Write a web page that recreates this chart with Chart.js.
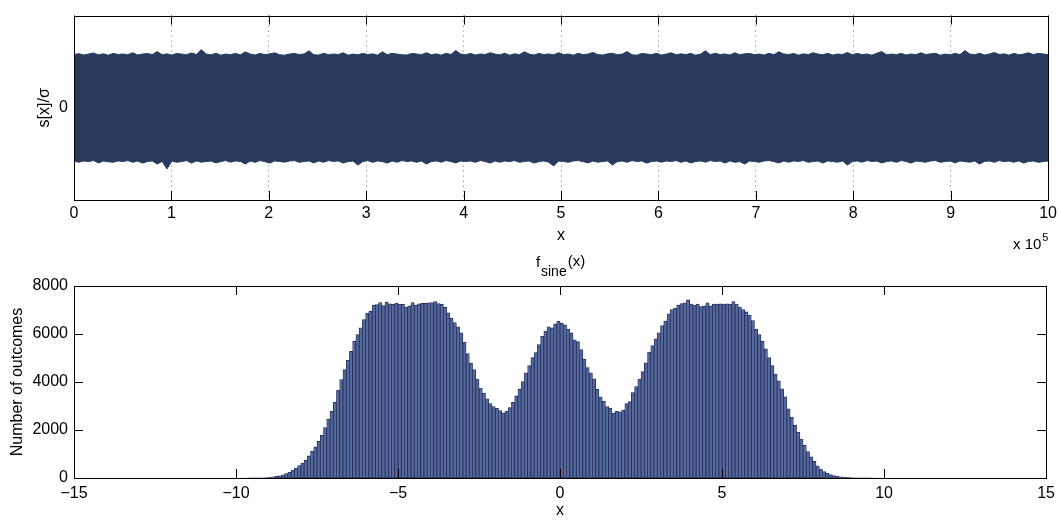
<!DOCTYPE html>
<html>
<head>
<meta charset="utf-8">
<script src="https://cdn.jsdelivr.net/npm/chart.js@4/dist/chart.umd.min.js"></script>
<style>
  body { margin: 0; background: #fff; }
  #top { position: absolute; left: 0; top: 0; width: 1061px; height: 250px; }
  #bottom { position: absolute; left: 0; top: 250px; width: 1061px; height: 271px; }
</style>
</head>
<body>
<div id="top"><canvas id="signalChart"></canvas></div>
<div id="bottom"><canvas id="histChart"></canvas></div>
<script>
// top panel: envelope of the noisy signal s[x]/sigma
const sampleCount = 200;
const signalUpper = [
  4.62,4.70,4.58,4.66,4.75,4.60,4.68,4.57,4.72,4.63,
  4.67,4.61,4.78,4.59,4.66,4.71,4.62,4.88,4.60,4.68,
  4.58,4.72,4.66,4.61,4.76,4.63,5.05,4.67,4.60,4.73,
  4.57,4.66,4.62,4.72,4.60,4.85,4.67,4.58,4.73,4.61,
  4.68,4.77,4.60,4.57,4.66,4.72,4.62,4.67,4.95,4.60,
  4.58,4.73,4.61,4.67,4.62,4.78,4.57,4.66,4.61,4.72,
  4.62,4.68,4.57,4.86,4.61,4.73,4.66,4.60,4.58,4.72,
  4.67,4.61,4.78,4.60,4.68,4.57,4.73,4.62,4.97,4.66,
  4.61,4.72,4.58,4.67,4.62,4.78,4.66,4.60,4.73,4.57,
  4.68,4.61,4.86,4.66,4.58,4.72,4.62,4.67,4.61,4.78,
  4.62,4.67,4.57,4.73,4.61,4.66,4.80,4.62,4.58,4.68,
  4.73,4.61,4.66,4.88,4.60,4.57,4.72,4.67,4.62,4.73,
  4.58,4.66,4.78,4.61,4.68,4.62,4.72,4.57,4.66,4.95,
  4.61,4.73,4.62,4.67,4.58,4.78,4.61,4.68,4.72,4.62,
  4.66,4.58,4.73,4.61,4.86,4.67,4.62,4.72,4.57,4.68,
  4.62,4.78,4.66,4.60,4.73,4.58,4.67,4.62,4.80,4.61,
  4.72,4.62,4.67,4.57,4.73,4.88,4.61,4.66,4.62,4.72,
  4.58,4.67,4.61,4.78,4.62,4.68,4.73,4.57,4.66,4.61,
  4.72,4.62,4.97,4.66,4.61,4.73,4.58,4.67,4.80,4.62,
  4.68,4.57,4.72,4.61,4.66,4.78,4.62,4.73,4.67,4.61
];
const signalLower = [
  -4.62,-4.72,-4.61,-4.67,-4.58,-4.78,-4.62,-4.68,-4.73,-4.61,
  -4.66,-4.58,-4.73,-4.62,-4.80,-4.67,-4.61,-4.88,-4.66,-5.30,
  -4.62,-4.73,-4.67,-4.58,-4.80,-4.61,-4.72,-4.66,-4.62,-4.78,
  -4.67,-4.58,-4.72,-4.61,-4.66,-4.88,-4.62,-4.73,-4.58,-4.67,
  -4.80,-4.61,-4.66,-4.72,-4.62,-4.58,-4.73,-4.67,-4.61,-4.78,
  -4.62,-4.72,-4.58,-4.66,-4.61,-4.80,-4.67,-4.62,-4.97,-4.66,
  -4.58,-4.73,-4.61,-4.67,-4.80,-4.62,-4.72,-4.58,-4.66,-4.61,
  -4.73,-4.62,-4.88,-4.67,-4.61,-4.72,-4.58,-4.66,-4.78,-4.62,
  -4.67,-4.61,-4.73,-4.58,-4.66,-4.80,-4.62,-4.72,-4.61,-4.67,
  -4.58,-4.73,-4.66,-4.62,-4.80,-4.67,-4.61,-4.72,-5.05,-4.62,
  -4.66,-4.73,-4.61,-4.58,-4.67,-4.78,-4.62,-4.72,-4.66,-4.61,
  -4.97,-4.67,-4.62,-4.73,-4.58,-4.66,-4.61,-4.80,-4.67,-4.62,
  -4.72,-4.61,-4.66,-4.58,-4.73,-4.62,-4.78,-4.67,-4.61,-4.72,
  -4.58,-4.66,-4.62,-4.80,-4.61,-4.73,-4.67,-4.88,-4.62,-4.66,
  -4.73,-4.61,-4.58,-4.67,-4.78,-4.62,-4.72,-4.61,-4.66,-4.58,
  -4.73,-4.67,-4.62,-4.80,-4.61,-4.66,-4.72,-4.62,-4.97,-4.67,
  -4.61,-4.72,-4.58,-4.66,-4.62,-4.78,-4.67,-4.61,-4.73,-4.58,
  -4.66,-4.80,-4.62,-4.67,-4.72,-4.61,-4.58,-4.73,-4.66,-4.62,
  -4.78,-4.61,-4.67,-4.72,-4.62,-4.88,-4.66,-4.61,-4.73,-4.58,
  -4.67,-4.62,-4.72,-4.61,-4.80,-4.66,-4.62,-4.73,-4.67,-4.61
];
const signalXMax = 1e6;
const signalTicks = [0,1,2,3,4,5,6,7,8,9,10];

// bottom panel: histogram of f_sine(x), 200 bins from -10 to 10
const binStart = -10;
const binWidth = 0.1;
const binCounts = [
  0,0,1,1,2,3,4,6,9,13,
  30,45,65,90,130,180,240,320,410,520,
  620,740,920,1110,1300,1530,1780,2100,2450,2780,
  3150,3650,4100,4520,4900,5280,5700,5980,6260,6600,
  6870,6950,7200,7230,7310,7180,7330,7260,7240,7290,
  7250,7240,7110,7170,7310,7200,7260,7280,7280,7300,
  7310,7350,7270,7240,7110,6880,6650,6480,6300,6050,
  5650,5180,4780,4520,4120,3750,3540,3300,3100,2980,
  2900,2810,2720,2790,2930,3150,3420,3700,4020,4380,
  4680,5020,5230,5560,5900,6120,6300,6260,6420,6530,
  6450,6380,6200,6050,5760,5680,5350,4950,4600,4380,
  4130,3700,3380,3190,2980,2900,2700,2780,2760,2820,
  3100,3180,3560,3810,4120,4430,4800,5250,5520,5800,
  6050,6350,6540,6840,7020,7070,7200,7270,7300,7420,
  7250,7210,7250,7140,7170,7300,7170,7250,7250,7260,
  7250,7260,7240,7350,7250,7120,7020,6920,6780,6560,
  6200,5980,5700,5380,5020,4680,4330,4050,3720,3380,
  2880,2530,2200,1900,1620,1360,1100,880,690,510,
  370,270,200,145,100,75,50,35,25,15,
  10,8,6,4,3,2,1,1,0,0
];
const histXTicks = [-15,-10,-5,0,5,10,15];
const histYTicks = [0,2000,4000,6000,8000];

Chart.defaults.font.family = "'Liberation Sans', Arial, Helvetica, sans-serif";
Chart.defaults.font.size = 16;
Chart.defaults.color = '#000';
Chart.defaults.animation = false;

// MATLAB style box with inward tick marks
const boxTicks = {
  id: 'boxTicks',
  afterDatasetsDraw(chart, args, opts) {
    const { ctx, chartArea: a, scales } = chart;
    const L = 9;
    ctx.save();
    ctx.strokeStyle = '#000';
    ctx.lineWidth = 1;
    ctx.beginPath();
    scales.x.ticks.forEach(t => {
      const px = Math.round(scales.x.getPixelForValue(t.value)) + 0.5;
      ctx.moveTo(px, a.bottom); ctx.lineTo(px, a.bottom - L);
      ctx.moveTo(px, a.top); ctx.lineTo(px, a.top + L);
    });
    if (opts.yTicks) {
      scales.y.ticks.forEach(t => {
        const py = Math.round(scales.y.getPixelForValue(t.value)) + 0.5;
        ctx.moveTo(a.left, py); ctx.lineTo(a.left + L, py);
        ctx.moveTo(a.right, py); ctx.lineTo(a.right - L, py);
      });
    }
    ctx.stroke();
    ctx.strokeRect(Math.round(a.left) + 0.5, Math.round(a.top) + 0.5, Math.round(a.width), Math.round(a.height));
    ctx.restore();
  }
};

const sampleX = signalUpper.map((v, i) => i * signalXMax / (sampleCount - 1));

new Chart(document.getElementById('signalChart'), {
  type: 'line',
  data: {
    datasets: [{
      data: signalUpper.map((v, i) => ({ x: sampleX[i], y: v })),
      borderColor: '#2d3f66',
      backgroundColor: '#283a5e',
      borderWidth: 1,
      pointRadius: 0,
      tension: 0,
      fill: '+1'
    }, {
      data: signalLower.map((v, i) => ({ x: sampleX[i], y: v })),
      borderColor: '#2d3f66',
      borderWidth: 1,
      pointRadius: 0,
      tension: 0,
      fill: false
    }]
  },
  options: {
    responsive: true,
    maintainAspectRatio: false,
    layout: { padding: { top: 8, right: 11, left: 0, bottom: 0 } },
    plugins: { legend: { display: false }, tooltip: { enabled: false }, boxTicks: { yTicks: false } },
    scales: {
      x: {
        type: 'linear',
        min: 0,
        max: signalXMax,
        afterBuildTicks: ax => { ax.ticks = signalTicks.map(t => ({ value: t * 1e5 })); },
        afterFit: ax => { ax.height = 50; },
        ticks: { padding: 4, maxRotation: 0, callback: v => String(v / 1e5) },
        grid: { color: '#777', drawTicks: false, lineWidth: 1 },
        border: { display: false, dash: [1, 4] },
        title: { display: true, text: 'x', padding: { top: 0, bottom: 5 } }
      },
      y: {
        min: -8,
        max: 8,
        afterBuildTicks: ax => { ax.ticks = [{ value: 0 }]; },
        afterFit: ax => { ax.width = 74; },
        ticks: { padding: 6 },
        grid: { display: false, drawTicks: false },
        border: { display: false },
        title: { display: true, text: 's[x]/σ', padding: { top: 35, bottom: 0 } }
      }
    }
  },
  plugins: [boxTicks, {
    id: 'expLabel',
    afterDraw(chart) {
      const ctx = chart.ctx;
      ctx.save();
      ctx.fillStyle = '#000';
      ctx.textBaseline = 'middle';
      ctx.font = "15px 'Liberation Sans', Arial, sans-serif";
      ctx.fillText('x 10', 1013, 245);
      const w = ctx.measureText('x 10').width;
      ctx.font = "11px 'Liberation Sans', Arial, sans-serif";
      ctx.fillText('5', 1013 + w + 1, 238);
      ctx.restore();
    }
  }]
});

const binCenters = binCounts.map((c, i) => binStart + binWidth * (i + 0.5));

new Chart(document.getElementById('histChart'), {
  type: 'bar',
  data: {
    datasets: [{
      data: binCounts.map((c, i) => ({ x: binCenters[i], y: c })),
      backgroundColor: '#5569a0',
      borderColor: '#1d2b4f',
      borderWidth: 0.8,
      borderSkipped: false,
      barPercentage: 1,
      categoryPercentage: 1
    }]
  },
  options: {
    responsive: true,
    maintainAspectRatio: false,
    layout: { padding: { top: 36, right: 11, left: 0, bottom: 0 } },
    plugins: { legend: { display: false }, tooltip: { enabled: false }, boxTicks: { yTicks: true } },
    scales: {
      x: {
        type: 'linear',
        offset: false,
        min: -15,
        max: 15,
        afterBuildTicks: ax => { ax.ticks = histXTicks.map(v => ({ value: v })); },
        afterFit: ax => { ax.height = 43; },
        ticks: { padding: 6, maxRotation: 0, callback: v => v < 0 ? '\u2212' + Math.abs(v) : String(v) },
        grid: { display: false, drawTicks: false },
        border: { display: false },
        title: { display: true, text: 'x', padding: { top: 0, bottom: 1 } }
      },
      y: {
        min: 0,
        max: 8000,
        afterBuildTicks: ax => { ax.ticks = histYTicks.map(v => ({ value: v })); },
        afterFit: ax => { ax.width = 74; },
        ticks: { padding: 6, callback: v => String(v) },
        grid: { display: false, drawTicks: false },
        border: { display: false },
        title: { display: true, text: 'Number of outcomes', padding: { top: 8, bottom: 0 } }
      }
    }
  },
  plugins: [boxTicks, {
    id: 'fTitle',
    afterDraw(chart) {
      const ctx = chart.ctx;
      ctx.save();
      ctx.fillStyle = '#000';
      ctx.textBaseline = 'middle';
      ctx.font = "15px 'Liberation Sans', Arial, sans-serif";
      ctx.fillText('f', 536, 13);
      ctx.font = "14px 'Liberation Sans', Arial, sans-serif";
      ctx.fillText('sine', 541, 22);
      const w = ctx.measureText('sine').width;
      ctx.font = "15px 'Liberation Sans', Arial, sans-serif";
      ctx.fillText('(x)', 541 + w + 1, 12);
      ctx.restore();
    }
  }]
});
</script>
</body>
</html>
